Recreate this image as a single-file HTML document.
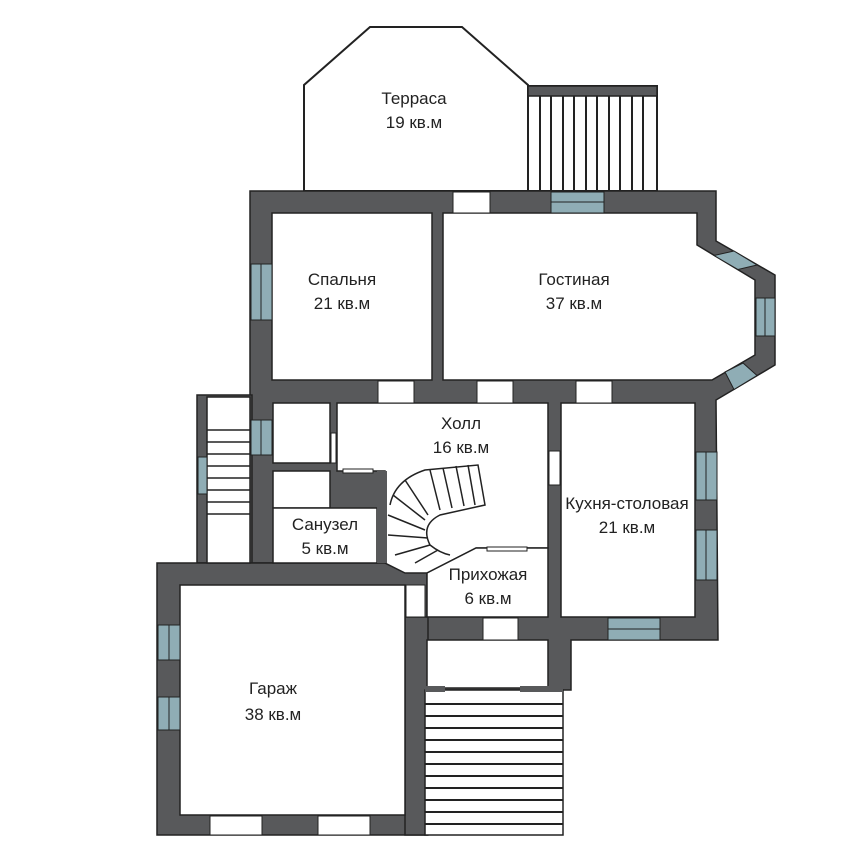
<!DOCTYPE html>
<html><head><meta charset="utf-8"><style>
html,body{margin:0;padding:0;background:#fff}
svg{display:block}
text{font-family:"Liberation Sans",sans-serif;font-size:17px;fill:#222;text-anchor:middle}
</style></head><body>
<svg width="850" height="850" viewBox="0 0 850 850" xmlns="http://www.w3.org/2000/svg">
<polygon points="304,191 304,85 370,27 462,27 528,85 528,191" fill="#fff" stroke="#222" stroke-width="2"/>
<rect x="528" y="86" width="129" height="105" fill="#fff" stroke="#222" stroke-width="2"/>
<rect x="528" y="86" width="129" height="10" fill="#58595b" stroke="#222" stroke-width="1.5"/>
<g stroke="#222" stroke-width="2">
<line x1="540" y1="96" x2="540" y2="191"/><line x1="551" y1="96" x2="551" y2="191"/><line x1="563" y1="96" x2="563" y2="191"/><line x1="574" y1="96" x2="574" y2="191"/><line x1="586" y1="96" x2="586" y2="191"/><line x1="597" y1="96" x2="597" y2="191"/><line x1="609" y1="96" x2="609" y2="191"/><line x1="620" y1="96" x2="620" y2="191"/><line x1="632" y1="96" x2="632" y2="191"/><line x1="643" y1="96" x2="643" y2="191"/>
</g>
<g fill="#58595b" stroke="#222" stroke-width="1.5">
<polygon points="250,191 716,191 716,241 775,275 775,365 716,400 718,640 571,640 571,690 405,690 405,563 250,563"/>
<rect x="197" y="395" width="55" height="168"/>
<rect x="157" y="563" width="270" height="272"/>
<rect x="405" y="617" width="23" height="218"/>
</g>
<g fill="#fff" stroke="#222" stroke-width="1.5">
<rect x="272" y="213" width="160" height="167"/>
<polygon points="443,213 697,213 697,245 755,280 755,355 712,380 443,380"/>
<rect x="207" y="397" width="43" height="166"/>
<rect x="273" y="403" width="57" height="60"/>
<rect x="273" y="471" width="57" height="37"/>
<rect x="273" y="508" width="104" height="55"/>
<polygon points="337,403 548,403 548,548 476,548 427,573 405,573 385,563 385,471 337,471"/>
<polygon points="427,573 476,548 548,548 548,617 427,617"/>
<rect x="561" y="403" width="134" height="214"/>
<rect x="180" y="585" width="225" height="230"/>
<rect x="427" y="640" width="121" height="48"/>
<rect x="425" y="690" width="138" height="145"/>
</g>
<rect x="377" y="471" width="10" height="92" fill="#58595b"/>
<g stroke="#222" stroke-width="1.5">
<line x1="207" y1="430" x2="250" y2="430"/><line x1="207" y1="442" x2="250" y2="442"/><line x1="207" y1="454" x2="250" y2="454"/><line x1="207" y1="466" x2="250" y2="466"/><line x1="207" y1="478" x2="250" y2="478"/><line x1="207" y1="490" x2="250" y2="490"/><line x1="207" y1="502" x2="250" y2="502"/><line x1="207" y1="514" x2="250" y2="514"/>
</g>
<g stroke="#222" stroke-width="2">
<line x1="425" y1="704" x2="563" y2="704"/><line x1="425" y1="716" x2="563" y2="716"/><line x1="425" y1="728" x2="563" y2="728"/><line x1="425" y1="740" x2="563" y2="740"/><line x1="425" y1="752" x2="563" y2="752"/><line x1="425" y1="764" x2="563" y2="764"/><line x1="425" y1="776" x2="563" y2="776"/><line x1="425" y1="788" x2="563" y2="788"/><line x1="425" y1="800" x2="563" y2="800"/><line x1="425" y1="812" x2="563" y2="812"/><line x1="425" y1="824" x2="563" y2="824"/>
</g>
<rect x="425" y="686" width="20" height="6" fill="#58595b"/><rect x="520" y="686" width="43" height="6" fill="#58595b"/>
<g fill="none" stroke="#222" stroke-width="1.5">
<path d="M390,505 Q395,480 425,470 L478,465 L485,505 L440,515 Q420,525 430,545 Q440,553 450,555"/>
<line x1="430" y1="470" x2="440" y2="510"/><line x1="443" y1="468" x2="452" y2="508"/><line x1="456" y1="466" x2="464" y2="506"/><line x1="468" y1="465" x2="475" y2="505"/>
<line x1="405" y1="480" x2="428" y2="515"/><line x1="393" y1="495" x2="425" y2="520"/><line x1="388" y1="515" x2="425" y2="530"/><line x1="388" y1="535" x2="428" y2="538"/><line x1="395" y1="555" x2="430" y2="545"/><line x1="415" y1="563" x2="438" y2="550"/>
</g>
<g fill="#fff" stroke="#222" stroke-width="1">
<rect x="453" y="192" width="37" height="21"/>
<rect x="378" y="381" width="36" height="22"/>
<rect x="477" y="381" width="36" height="22"/>
<rect x="576" y="381" width="36" height="22"/>
<rect x="549" y="451" width="11" height="34"/>
<rect x="331" y="433" width="5" height="30"/>
<rect x="343" y="469" width="30" height="4"/>
<rect x="487" y="547" width="40" height="4"/>
<rect x="406" y="585" width="19" height="32"/>
<rect x="483" y="618" width="35" height="22"/>
<rect x="210" y="816" width="52" height="19"/>
<rect x="318" y="816" width="52" height="19"/>
</g>
<g fill="#8fadb5" stroke="#222" stroke-width="1">
<rect x="551" y="192" width="53" height="21"/>
<rect x="251" y="264" width="21" height="56"/>
<rect x="251" y="420" width="21" height="35"/>
<rect x="198" y="457" width="9" height="37"/>
<rect x="696" y="452" width="21" height="48"/>
<rect x="696" y="530" width="21" height="50"/>
<rect x="608" y="618" width="52" height="22"/>
<rect x="158" y="625" width="22" height="35"/>
<rect x="158" y="697" width="22" height="33"/>
<rect x="756" y="298" width="19" height="38"/>
<polygon points="734,251 757,265 738,269.5 714,255.5"/>
<polygon points="757,375.5 734,389.5 725,372 743,363"/>
</g>
<g stroke="#222" stroke-width="1">
<line x1="551" y1="202" x2="604" y2="202"/><line x1="261" y1="264" x2="261" y2="320"/><line x1="261" y1="420" x2="261" y2="455"/>
<line x1="706" y1="452" x2="706" y2="500"/><line x1="706" y1="530" x2="706" y2="580"/><line x1="608" y1="629" x2="660" y2="629"/>
<line x1="169" y1="625" x2="169" y2="660"/><line x1="169" y1="697" x2="169" y2="730"/><line x1="765" y1="298" x2="765" y2="336"/>
</g>
<text x="414" y="104">Терраса</text><text x="414" y="128">19 кв.м</text>
<text x="342" y="285">Спальня</text><text x="342" y="309">21 кв.м</text>
<text x="574" y="285">Гостиная</text><text x="574" y="309">37 кв.м</text>
<text x="461" y="429">Холл</text><text x="461" y="453">16 кв.м</text>
<text x="325" y="530">Санузел</text><text x="325" y="554">5 кв.м</text>
<text x="627" y="509">Кухня-столовая</text><text x="627" y="533">21 кв.м</text>
<text x="488" y="580">Прихожая</text><text x="488" y="604">6 кв.м</text>
<text x="273" y="694">Гараж</text><text x="273" y="720">38 кв.м</text>
</svg>
</body></html>
